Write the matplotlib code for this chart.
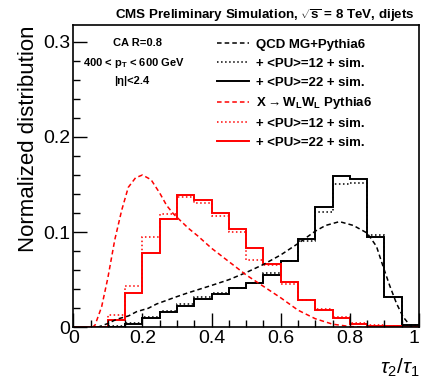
import numpy as np
import matplotlib
matplotlib.use('Agg')
import matplotlib.pyplot as plt
from matplotlib.ticker import MultipleLocator

plt.rcParams['font.family'] = ['Liberation Sans', 'DejaVu Sans']
plt.rcParams['mathtext.fontset'] = 'custom'
plt.rcParams['mathtext.rm'] = 'Liberation Sans'
plt.rcParams['mathtext.it'] = 'Liberation Sans:italic'
plt.rcParams['mathtext.bf'] = 'Liberation Sans:bold'

# tau2/tau1 binning: 20 bins from 0 to 1
bin_edges = np.linspace(0, 1, 21)

# QCD histograms (black)
qcd_pu12 = [0.0, 0.0003, 0.001, 0.004, 0.0105, 0.0171, 0.0245, 0.0315, 0.0357, 0.0416,
            0.047, 0.0567, 0.070, 0.091, 0.1207, 0.150, 0.152, 0.0968, 0.032, 0.0024]
qcd_pu22 = [0.0, 0.0003, 0.0008, 0.0035, 0.0094, 0.0164, 0.0228, 0.0298, 0.035, 0.041,
            0.0468, 0.0552, 0.0696, 0.0928, 0.1266, 0.1588, 0.1556, 0.0944, 0.032, 0.0024]

# X -> WW signal histograms (red)
sig_pu12 = [0.0, 0.0004, 0.0129, 0.0437, 0.0951, 0.1189, 0.137, 0.1305, 0.117, 0.1005,
            0.0706, 0.065, 0.046, 0.029, 0.019, 0.0105, 0.0045, 0.002, 0.0012, 0.0006]
sig_pu22 = [0.0, 0.0004, 0.0077, 0.036, 0.078, 0.114, 0.139, 0.134, 0.1196, 0.103,
            0.0837, 0.0663, 0.0475, 0.0287, 0.018, 0.0094, 0.0035, 0.0017, 0.001, 0.0005]

# generator level curves (dashed)
qcd_gen_x = [0.07, 0.10, 0.125, 0.16, 0.183, 0.217, 0.241, 0.294, 0.33, 0.40, 0.45, 0.50,
             0.55, 0.60, 0.65, 0.70, 0.73, 0.77, 0.81, 0.85, 0.877, 0.896, 0.915, 0.935,
             0.954, 0.973, 0.98]
qcd_gen_y = [0.0, 0.004, 0.0084, 0.012, 0.0164, 0.020, 0.0245, 0.0315, 0.036, 0.044, 0.050,
             0.0575, 0.066, 0.076, 0.088, 0.101, 0.107, 0.111, 0.107, 0.099, 0.085, 0.064,
             0.044, 0.025, 0.011, 0.0024, 0.0]
sig_gen_x = [0.055, 0.063, 0.082, 0.10, 0.12, 0.14, 0.159, 0.18, 0.20, 0.225, 0.25, 0.27,
             0.29, 0.31, 0.333, 0.36, 0.40, 0.45, 0.50, 0.55, 0.60, 0.65, 0.70, 0.75,
             0.80, 0.85]
sig_gen_y = [0.0, 0.0024, 0.0216, 0.052, 0.092, 0.123, 0.147, 0.157, 0.160, 0.155, 0.141,
             0.128, 0.119, 0.112, 0.104, 0.096, 0.083, 0.069, 0.055, 0.043, 0.031, 0.018,
             0.009, 0.0033, 0.0008, 0.0]

x_ticks = [0, 0.2, 0.4, 0.6, 0.8, 1.0]
x_ticklabels = ['0', '0.2', '0.4', '0.6', '0.8', '1']
y_ticks = [0, 0.1, 0.2, 0.3]
y_ticklabels = ['0', '0.1', '0.2', '0.3']

labels = ['QCD MG+Pythia6',
          '+ <PU>=12 + sim.',
          '+ <PU>=22 + sim.',
          r'X$\rightarrow$W$_{\mathbf{L}}$W$_{\mathbf{L}}$ Pythia6',
          '+ <PU>=12 + sim.',
          '+ <PU>=22 + sim.']

fig = plt.figure(figsize=(4.22, 3.79), dpi=100)
ax = fig.add_axes([0.1737, 0.1364, 0.8192, 0.7976])

h1, = ax.plot(qcd_gen_x, qcd_gen_y, color='black', lw=1.1, ls=(0, (3, 2)))
h2 = ax.stairs(qcd_pu12, bin_edges, color='black', lw=1.1, ls=':')
h3 = ax.stairs(qcd_pu22, bin_edges, color='black', lw=1.4)
h4, = ax.plot(sig_gen_x, sig_gen_y, color='red', lw=1.1, ls=(0, (3, 2)))
h5 = ax.stairs(sig_pu12, bin_edges, color='red', lw=1.1, ls=':')
h6 = ax.stairs(sig_pu22, bin_edges, color='red', lw=1.4)

ax.set_xlim(0, 1)
ax.set_ylim(0, 0.3175)

ax.set_xticks(x_ticks)
ax.set_xticklabels(x_ticklabels)
ax.get_xticklabels()[-1].set_horizontalalignment('right')
ax.set_yticks(y_ticks)
ax.set_yticklabels(y_ticklabels)
ax.xaxis.set_minor_locator(MultipleLocator(0.05))
ax.yaxis.set_minor_locator(MultipleLocator(0.02))
ax.tick_params(which='both', direction='in', top=False, right=False)
ax.tick_params(which='major', length=10, width=1)
ax.tick_params(which='minor', length=5, width=1)
ax.tick_params(axis='x', labelsize=14, pad=2)
ax.tick_params(axis='y', labelsize=14, pad=2)
for sp in ax.spines.values():
    sp.set_linewidth(1.2)

ax.set_ylabel('Normalized distribution', fontsize=16, loc='top', labelpad=3)
ax.set_xlabel(r'$\tau_{2}/\tau_{1}$', fontsize=15, loc='right', labelpad=7)

fig.text(0.983, 0.958, r'CMS Preliminary Simulation, $\mathbf{\sqrt{s}}$ = 8 TeV, dijets',
         ha='right', va='center', fontsize=9.6, fontweight='bold')

ax.text(0.187, 0.94, 'CA R=0.8', transform=ax.transAxes, ha='center', va='center',
        fontsize=8, fontweight='bold')
ax.text(0.176, 0.875, r'400 < p$_{\mathbf{T}}$ < 600 GeV', transform=ax.transAxes,
        ha='center', va='center', fontsize=8, fontweight='bold')
ax.text(0.17, 0.815, '|η|<2.4', transform=ax.transAxes, ha='center', va='center',
        fontsize=8, fontweight='bold')

leg = ax.legend([h1, h2, h3, h4, h5, h6], labels, loc='upper left',
                bbox_to_anchor=(0.39, 0.985), frameon=False, handlelength=2.4,
                handletextpad=0.55, labelspacing=0.5, borderpad=0.2,
                prop={'weight': 'bold', 'size': 9.5})

fig.savefig('out.png', dpi=100)
